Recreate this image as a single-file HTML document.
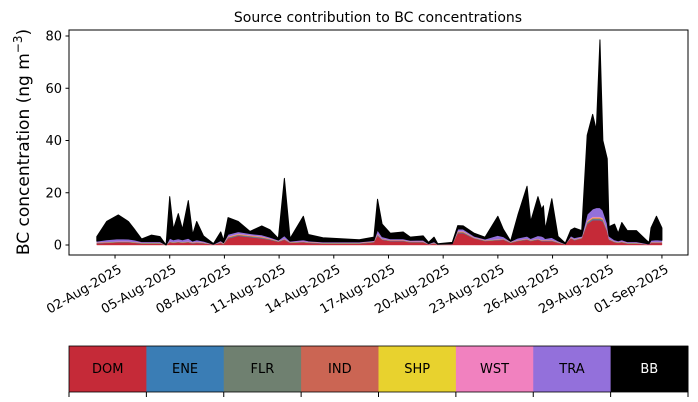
<!DOCTYPE html>
<html><head><meta charset="utf-8"><style>
body{margin:0;background:#fff}
svg{display:block;font-family:"DejaVu Sans","Liberation Sans",sans-serif}
</style></head><body>
<svg id="c" width="698" height="402" xmlns="http://www.w3.org/2000/svg">
<text x="378" y="22" text-anchor="middle" font-size="14">Source contribution to BC concentrations</text>
<text transform="translate(29,142) rotate(-90)" text-anchor="middle" font-size="17">BC concentration (ng m<tspan dy="-7" font-size="12">−3</tspan><tspan dy="7">)</tspan></text>
<g id="areas"></g>
<rect x="69" y="30" width="619" height="225" fill="none" stroke="#000" stroke-width="1"/>
<g id="axes"></g>
<g id="legend"></g>
</svg>
<script>
const days=[0,0.54,1.18,1.73,2.1,2.46,3.0,3.47,3.8,4.0,4.2,4.47,4.7,5.02,5.26,5.48,5.85,6.4,6.8,6.95,7.2,7.76,8.4,9.05,9.5,9.96,10.29,10.6,11.33,11.6,12.4,14.4,15.2,15.4,15.65,16.1,16.8,17.2,17.9,18.2,18.5,18.7,19.5,19.8,20.1,20.7,21.3,22.0,22.3,22.7,23.1,23.6,23.8,24.2,24.4,24.5,24.6,24.96,25.3,25.7,26.0,26.2,26.6,26.9,27.2,27.4,27.6,27.76,28.0,28.1,28.4,28.6,28.8,29.1,29.6,30.2,30.3,30.4,30.7,31.0];
const totalBC=[3.2,9,11.5,9,5.7,2.3,3.8,3.2,0,18.5,6,12,6,17,4,9,3.5,0.5,5,1.8,10.5,9,5.2,7.3,5.8,2.5,25.5,2.5,11,4,2.8,2,3,17.5,8,4.5,5,3,3.5,1,3,0.5,1,7.4,7.3,4.5,3,11,6,1.5,11.5,22.5,9,18.5,13.7,15,6,17.7,3.3,0.7,5.7,6.5,5.5,42,50,44,78.5,40,33,7,8,4.5,8.6,5.5,5.5,1.5,1,6.5,11,6.5];
const DOM=[0.6,0.8,1,1,0.8,0.5,0.5,0.5,0,1,0.8,1,0.8,1,0.6,0.8,0.6,0.2,0.8,0.3,2.5,3.5,3,2.5,2,1.2,2,0.8,1,0.8,0.5,0.5,1,3.5,2,1.5,1.5,1,1,0.3,0.5,0.2,0.3,4.5,4.5,2.5,1.5,1.8,2,0.8,1.5,2,1.5,2,1.5,1.5,1.5,1.5,0.8,0.3,2.5,1.8,2.5,8,9.5,9.5,9.5,9,5,2,1,0.8,1,0.5,0.5,0.3,0.3,0.8,0.8,0.8];
const ENE=[0.1,0.1,0.1,0.1,0.1,0.1,0.1,0.1,0,0.1,0.1,0.1,0.1,0.1,0.1,0.1,0.1,0,0.1,0.1,0.2,0.2,0.2,0.2,0.1,0.1,0.1,0.1,0.1,0.1,0.1,0.1,0.1,0.2,0.1,0.1,0.1,0.1,0.1,0,0.1,0,0,0.2,0.2,0.1,0.1,0.1,0.1,0.1,0.1,0.1,0.1,0.1,0.1,0.1,0.1,0.1,0.1,0,0.1,0.1,0.1,0.3,0.3,0.3,0.3,0.3,0.2,0.1,0.1,0.1,0.1,0.1,0.1,0,0,0.1,0.1,0.1];
const FLR=[0.05,0.05,0.05,0.05,0.05,0.05,0.05,0.05,0,0.05,0.05,0.05,0.05,0.05,0.05,0.05,0.05,0,0.05,0.05,0.1,0.1,0.1,0.1,0.1,0.05,0.05,0.05,0.05,0.05,0.05,0.05,0.05,0.1,0.05,0.05,0.05,0.05,0.05,0,0.05,0,0,0.1,0.1,0.05,0.05,0.05,0.05,0.05,0.05,0.05,0.05,0.05,0.05,0.05,0.05,0.05,0.05,0,0.05,0.05,0.05,0.2,0.2,0.2,0.2,0.2,0.1,0.05,0.05,0.05,0.05,0.05,0.05,0,0,0.05,0.05,0.05];
const IND=[0.1,0.1,0.1,0.1,0.1,0.1,0.1,0.1,0,0.1,0.1,0.1,0.1,0.1,0.1,0.1,0.1,0,0.1,0.1,0.2,0.2,0.2,0.2,0.1,0.1,0.1,0.1,0.1,0.1,0.1,0.1,0.1,0.2,0.1,0.1,0.1,0.1,0.1,0,0.1,0,0,0.2,0.2,0.1,0.1,0.1,0.1,0.1,0.1,0.1,0.1,0.1,0.1,0.1,0.1,0.1,0.1,0,0.1,0.1,0.1,0.3,0.3,0.3,0.3,0.3,0.2,0.1,0.1,0.1,0.1,0.1,0.1,0,0,0.1,0.1,0.1];
const SHP=[0.05,0.05,0.05,0.05,0.05,0.05,0.05,0.05,0,0.05,0.05,0.05,0.05,0.05,0.05,0.05,0.05,0,0.05,0.05,0.1,0.1,0.1,0.1,0.1,0.05,0.05,0.05,0.05,0.05,0.05,0.05,0.05,0.1,0.05,0.05,0.05,0.05,0.05,0,0.05,0,0,0.1,0.1,0.05,0.05,0.05,0.05,0.05,0.05,0.05,0.05,0.05,0.05,0.05,0.05,0.05,0.05,0,0.05,0.05,0.05,0.2,0.2,0.2,0.2,0.2,0.1,0.05,0.05,0.05,0.05,0.05,0.05,0,0,0.05,0.05,0.05];
const WST=[0.1,0.1,0.1,0.1,0.1,0.1,0.1,0.1,0,0.1,0.1,0.1,0.1,0.1,0.1,0.1,0.1,0,0.1,0.1,0.2,0.2,0.2,0.2,0.1,0.1,0.1,0.1,0.1,0.1,0.1,0.1,0.1,0.2,0.1,0.1,0.1,0.1,0.1,0,0.1,0,0,0.2,0.2,0.1,0.1,0.1,0.1,0.1,0.1,0.1,0.1,0.1,0.1,0.1,0.1,0.1,0.1,0,0.1,0.1,0.1,0.3,0.3,0.3,0.3,0.3,0.2,0.1,0.1,0.1,0.1,0.1,0.1,0,0,0.1,0.1,0.1];
const TRA=[0.5,0.8,1,0.9,0.7,0.4,0.4,0.4,0,1.2,0.8,1,0.8,1.2,0.5,0.8,0.5,0.1,0.5,0.2,0.8,0.8,0.6,0.6,0.5,0.3,1.2,0.3,0.6,0.4,0.3,0.3,0.3,1.5,0.8,0.5,0.5,0.4,0.5,0.2,0.4,0.1,0.2,0.8,0.8,0.5,0.4,1.5,0.8,0.2,0.8,1,0.6,1.2,1.5,1.2,0.6,1,0.4,0.1,0.6,0.6,0.5,2.5,3,3.5,3.5,3,2.5,1,0.6,0.4,0.6,0.4,0.4,0.2,0.2,0.6,0.8,0.6];
const sourceNames=["DOM","ENE","FLR","IND","SHP","WST","TRA","BB"];
const sourceColors=["#c52a38","#3a7db5","#6f8070","#cb6553","#e8d22e","#f181bf","#9370db","#000000"];
const yTicks=[0,20,40,60,80];
const xTickDays=[1,4,7,10,13,16,19,22,25,28,31];
const xTickLabels=["02-Aug-2025","05-Aug-2025","08-Aug-2025","11-Aug-2025","14-Aug-2025","17-Aug-2025","20-Aug-2025","23-Aug-2025","26-Aug-2025","29-Aug-2025","01-Sep-2025"];

const NS="http://www.w3.org/2000/svg";
const X=d=>96.8+d*18.23;
const Y=v=>245-v*2.6125;
function mk(tag,attrs,parent){const e=document.createElementNS(NS,tag);for(const k in attrs)e.setAttribute(k,attrs[k]);parent.appendChild(e);return e;}
const BB=totalBC.map((t,i)=>Math.max(0,t-DOM[i]-ENE[i]-FLR[i]-IND[i]-SHP[i]-WST[i]-TRA[i]));
const series=[DOM,ENE,FLR,IND,SHP,WST,TRA,BB];
const areas=document.getElementById('areas');
let base=days.map(()=>0);
series.forEach((s,k)=>{
  const top=base.map((b,i)=>b+s[i]);
  let pts=days.map((d,i)=>X(d).toFixed(2)+","+Y(top[i]).toFixed(2));
  for(let i=days.length-1;i>=0;i--)pts.push(X(days[i]).toFixed(2)+","+Y(base[i]).toFixed(2));
  const p=mk('polygon',{points:pts.join(" "),fill:sourceColors[k],stroke:sourceColors[k],'stroke-width':k===7?1:0.4,'stroke-linejoin':'round'},areas);
  
  
  base=top;
});
const axes=document.getElementById('axes');
yTicks.forEach(v=>{
  const l=mk('line',{x1:65.5,x2:69,y1:Y(v),y2:Y(v),stroke:'#000'},axes);
  
  
  const t=mk('text',{x:62,y:Y(v)+4.5,'text-anchor':'end','font-size':13},axes);
  t.textContent=v;
  
  
});
xTickDays.forEach((d,i)=>{
  const l=mk('line',{x1:X(d),x2:X(d),y1:255,y2:258.5,stroke:'#000'},axes);
  
  
  const t=mk('text',{transform:`translate(${X(d)+3},${264}) rotate(-30)`,'text-anchor':'end','font-size':13,y:9},axes);
  t.textContent=xTickLabels[i];
  
  
});
const leg=document.getElementById('legend');
const cw=619/8;
sourceNames.forEach((n,i)=>{
  const r=mk('rect',{x:69+i*cw,y:346,width:cw+0.5,height:46,fill:sourceColors[i]},leg);
  
  
  const t=mk('text',{x:69+i*cw+cw/2,y:373,'text-anchor':'middle','font-size':13,fill:n==="BB"?"#fff":"#000"},leg);
  t.textContent=n;
  
  
});
for(let i=0;i<=8;i++){
  const l=mk('line',{x1:69+i*cw,x2:69+i*cw,y1:392,y2:397,stroke:'#000'},leg);
  
  
}
const fr=mk('rect',{x:69,y:346,width:619,height:46,fill:'none',stroke:'#000','stroke-width':0.8},leg);


</script>
</body></html>
